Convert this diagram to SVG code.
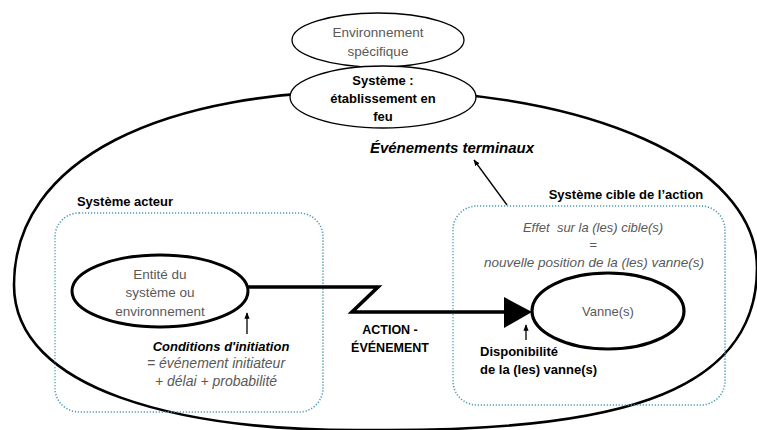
<svg xmlns="http://www.w3.org/2000/svg" width="757" height="430" viewBox="0 0 757 430">
<defs>
<style>
.t{font-family:"Liberation Sans",Arial,sans-serif;font-size:13.5px;fill:#595959;text-anchor:middle}
.b{font-family:"Liberation Sans",Arial,sans-serif;font-size:13px;font-weight:bold;fill:#000;text-anchor:middle}
.i{font-style:italic}
.box{fill:none;stroke:#4a9bb0;stroke-width:1.6;stroke-dasharray:1.2 1.8}
.thin{fill:none;stroke:#000;stroke-width:1.3}
</style>
<marker id="ah" viewBox="0 0 10 10" refX="9" refY="5" markerWidth="5" markerHeight="5" orient="auto">
<path d="M0,1 L10,5 L0,9 z" fill="#000"/>
</marker>
</defs>
<rect width="757" height="430" fill="#fff"/>
<g id="environnement-global">
<path d="M385,91 C160,88 14,160 14,285 C14,390 180,432 370,430 C600,432 757,400 757,268 C757,160 580,91 385,91 Z" fill="none" stroke="#000" stroke-width="2.6"/>
</g>
<g id="environnement-specifique">
<ellipse cx="378" cy="40" rx="86" ry="27" fill="#fff" stroke="#000" stroke-width="1.3"/>
<text class="t" x="378" y="37">Environnement</text>
<text class="t" x="378" y="56">spécifique</text>
</g>
<g id="systeme">
<ellipse cx="383" cy="97" rx="93" ry="31" fill="#fff" stroke="#000" stroke-width="1.3"/>
<text class="b" x="383" y="85">Système :</text>
<text class="b" x="383" y="103">établissement en</text>
<text class="b" x="383" y="121">feu</text>
</g>
<g id="evenements-terminaux">
<text class="b i" x="452" y="153" style="font-size:15px">Événements terminaux</text>
</g>
<g id="systeme-acteur">
<text class="b" x="125" y="206">Système acteur</text>
<rect class="box" x="55" y="213" width="268" height="199" rx="24"/>
</g>
<g id="systeme-cible">
<text class="b" x="626" y="199">Système cible de l’action</text>
<rect class="box" x="453" y="206" width="272" height="199" rx="24"/>
<text class="t i" x="593" y="232" style="font-size:13px;white-space:pre" xml:space="preserve">Effet  sur la (les) cible(s)</text>
<text class="t i" x="593" y="249" style="font-size:13px">=</text>
<text class="t i" x="594" y="267" style="font-size:13.5px">nouvelle position de la (les) vanne(s)</text>
</g>
<g id="entite">
<ellipse cx="160" cy="291" rx="88" ry="36" fill="#fff" stroke="#000" stroke-width="3"/>
<text class="t" x="160" y="279">Entité du</text>
<text class="t" x="160" y="297">système ou</text>
<text class="t" x="160" y="316">environnement</text>
</g>
<g id="conditions">
<text class="b i" x="221" y="351">Conditions d'initiation</text>
<text class="t i" x="216" y="368" style="font-size:14px">= événement initiateur</text>
<text class="t i" x="216" y="386" style="font-size:14px">+ délai + probabilité</text>
</g>
<g id="vanne">
<ellipse cx="608" cy="311" rx="76" ry="38" fill="#fff" stroke="#000" stroke-width="3.2"/>
<text class="t" x="608" y="316" style="font-size:13px">Vanne(s)</text>
</g>
<g id="disponibilite">
<text class="b" x="480" y="356" style="text-anchor:start">Disponibilité</text>
<text class="b" x="480" y="374" style="text-anchor:start">de la (les) vanne(s)</text>
</g>
<g id="action-label">
<text class="b" x="390" y="334" style="font-size:12.5px">ACTION -</text>
<text class="b" x="390" y="352" style="font-size:12.5px">ÉVÉNEMENT</text>
</g>
<g id="connectors">
<path d="M247,287 L378,287 L352,312 L507,312" fill="none" stroke="#000" stroke-width="3.6" stroke-linejoin="miter"/>
<path d="M504,297 L532,312 L504,328 Z" fill="#000"/>
<line class="thin" x1="507" y1="205" x2="474" y2="160" marker-end="url(#ah)"/>
<line class="thin" x1="247" y1="334" x2="247" y2="313" marker-end="url(#ah)"/>
<line class="thin" x1="526" y1="340" x2="526" y2="325" marker-end="url(#ah)"/>
</g>
</svg>
